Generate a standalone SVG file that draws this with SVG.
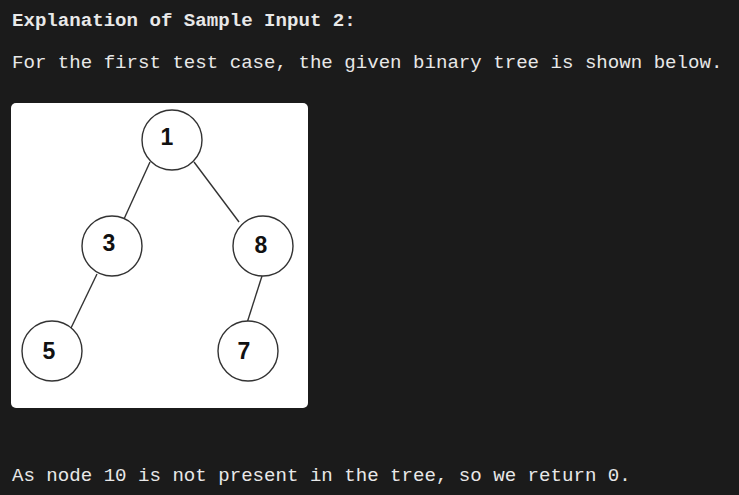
<svg xmlns="http://www.w3.org/2000/svg" width="739" height="495" viewBox="0 0 739 495">
<style>
.t{font-family:"Liberation Mono","DejaVu Sans Mono",monospace;font-size:19.1px;fill:#e8e8e8}
.b{font-weight:bold}
.n circle{fill:#ffffff;stroke:#333333;stroke-width:1.4}
.n text{font-family:"Liberation Sans",Arial,sans-serif;font-weight:bold;font-size:23px;fill:#111111;text-anchor:middle}
.e line{stroke:#333333;stroke-width:1.4}
</style>
<rect width="739" height="495" fill="#1b1b1b"/>
<text class="t b" x="12" y="26">Explanation of Sample Input 2:</text>
<text class="t" x="12" y="68">For the first test case, the given binary tree is shown below.</text>
<rect x="11" y="103" width="297" height="305" rx="5" fill="#ffffff"/>
<g id="connectors" class="e">
<line x1="150" y1="162" x2="124" y2="219"/>
<line x1="194" y1="162" x2="239" y2="222"/>
<line x1="97" y1="274" x2="71" y2="328"/>
<line x1="262" y1="276" x2="247" y2="323"/>
</g>
<g id="node1" class="n"><circle cx="172" cy="140" r="30"/><text x="167" y="145">1</text></g>
<g id="node3" class="n"><circle cx="112" cy="246" r="30"/><text x="109" y="251">3</text></g>
<g id="node8" class="n"><circle cx="263" cy="246" r="30"/><text x="261" y="253">8</text></g>
<g id="node5" class="n"><circle cx="52" cy="351" r="30"/><text x="49" y="359">5</text></g>
<g id="node7" class="n"><circle cx="248" cy="351" r="30"/><text x="244" y="359">7</text></g>
<text class="t" x="12" y="481">As node 10 is not present in the tree, so we return 0.</text>
</svg>
